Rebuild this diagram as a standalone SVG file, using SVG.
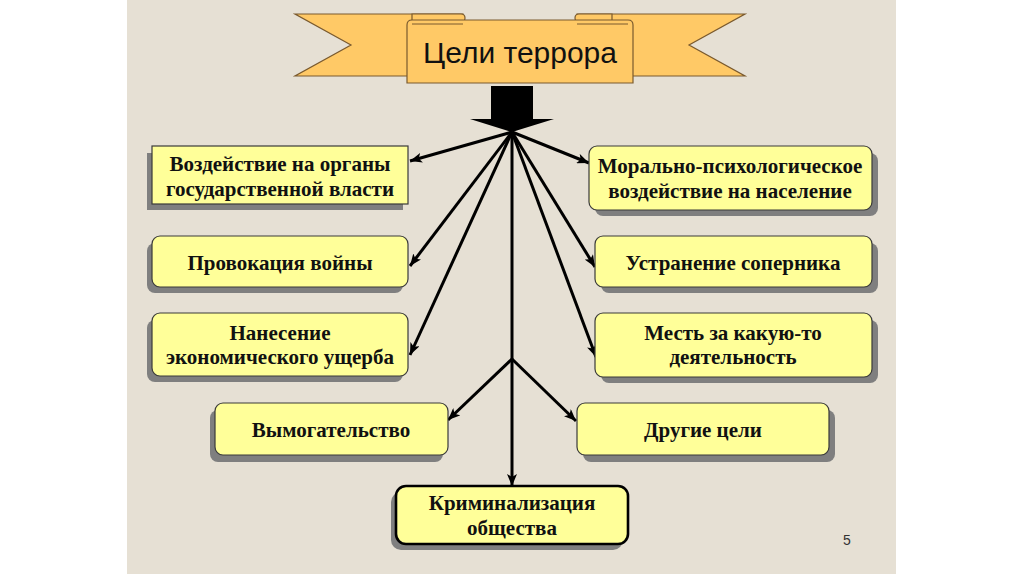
<svg xmlns="http://www.w3.org/2000/svg" width="1024" height="574" viewBox="0 0 1024 574">
<defs>
<marker id="ah" viewBox="0 0 12 10" refX="12" refY="5" markerWidth="12" markerHeight="10" markerUnits="userSpaceOnUse" orient="auto">
<path d="M0,0 L12,5 L0,10 L3,5 Z" fill="#000"/>
</marker>
</defs>
<style>
.bg{fill:#E6E0D4}
.rib{fill:#FFC966;stroke:#7A5A2E;stroke-width:1.2}
.box{fill:#FFFF99;stroke:#3A3A3A;stroke-width:1.2}
.box2{fill:#FFFF99;stroke:#000;stroke-width:2.6}
.sh{fill:#7F7F7F}
.t{font-family:"Liberation Serif","Times New Roman",serif;font-weight:bold;font-size:21px;fill:#111;text-anchor:middle}
.title{font-family:"Liberation Sans",Arial,sans-serif;font-size:30px;fill:#111;text-anchor:middle}
.con{stroke:#000;stroke-width:3;fill:none}
.pg{font-family:"Liberation Sans",Arial,sans-serif;font-size:14px;fill:#333;text-anchor:middle}
</style>
<rect x="0" y="0" width="1024" height="574" fill="#fff"/>
<rect class="bg" x="127" y="0" width="769" height="574"/>

<g id="banner">
<polygon class="rib" points="295,14 463,14 463,76 295,76 351,45"/>
<polygon class="rib" points="745,14 577,14 577,76 745,76 689,45"/>
<path class="rib" d="M412,14 L461,14 Q465,14 465,18 Q465,22 461,22 L412,22 Z"/>
<path class="rib" d="M612,14 L579,14 Q575,14 575,18 Q575,22 579,22 L612,22 Z"/>
<path class="rib" d="M407,83 L407,25 Q407,20 412,20 L628,20 Q633,20 633,25 L633,83 Z"/>
<path d="M412,24 L463,24 M577,24 L628,24" stroke="#7A5A2E" stroke-width="1" fill="none"/>
<text class="title" x="520" y="63">Цели террора</text>
<path d="M491,86 L533,86 L533,119 L554,119 L512,132 L470,119 L491,119 Z" fill="#000"/>
</g>

<g id="connectors">
<line class="con" x1="512" y1="132" x2="410" y2="161" marker-end="url(#ah)"/>
<line class="con" x1="512" y1="132" x2="410" y2="266" marker-end="url(#ah)"/>
<line class="con" x1="512" y1="132" x2="410" y2="355" marker-end="url(#ah)"/>
<line class="con" x1="512" y1="132" x2="589" y2="163" marker-end="url(#ah)"/>
<line class="con" x1="512" y1="132" x2="595" y2="267" marker-end="url(#ah)"/>
<line class="con" x1="512" y1="132" x2="596" y2="357" marker-end="url(#ah)"/>
<line class="con" x1="512" y1="132" x2="512" y2="486" marker-end="url(#ah)"/>
<line class="con" x1="512" y1="359" x2="448" y2="420" marker-end="url(#ah)"/>
<line class="con" x1="512" y1="359" x2="576" y2="421" marker-end="url(#ah)"/>
</g>

<g id="n1">
<rect class="sh" x="147" y="153" width="256" height="57"/>
<rect class="box" x="152" y="146" width="256" height="58"/>
<text class="t" x="280" y="171">Воздействие на органы</text>
<text class="t" x="280" y="196">государственной власти</text>
</g>
<g id="n2">
<rect class="sh" x="147" y="243" width="256" height="50" rx="8"/>
<rect class="box" x="152" y="236" width="256" height="51" rx="8"/>
<text class="t" x="280" y="270">Провокация войны</text>
</g>
<g id="n3">
<rect class="sh" x="147" y="320" width="256" height="62" rx="8"/>
<rect class="box" x="152" y="313" width="256" height="63" rx="8"/>
<text class="t" x="280" y="340">Нанесение</text>
<text class="t" x="280" y="364">экономического ущерба</text>
</g>
<g id="n4">
<rect class="sh" x="595" y="153" width="283" height="63" rx="8"/>
<rect class="box" x="589" y="146" width="283" height="64" rx="8"/>
<text class="t" x="730" y="173">Морально-психологическое</text>
<text class="t" x="730" y="198">воздействие на население</text>
</g>
<g id="n5">
<rect class="sh" x="601" y="243" width="277" height="50" rx="8"/>
<rect class="box" x="595" y="236" width="277" height="51" rx="8"/>
<text class="t" x="733" y="270">Устранение соперника</text>
</g>
<g id="n6">
<rect class="sh" x="601" y="320" width="277" height="63" rx="8"/>
<rect class="box" x="595" y="313" width="277" height="64" rx="8"/>
<text class="t" x="733" y="340">Месть за какую-то</text>
<text class="t" x="733" y="364">деятельность</text>
</g>
<g id="n7">
<rect class="sh" x="210" y="410" width="233" height="52" rx="8"/>
<rect class="box" x="215" y="403" width="233" height="52" rx="8"/>
<text class="t" x="331" y="437">Вымогательство</text>
</g>
<g id="n8">
<rect class="sh" x="583" y="410" width="252" height="52" rx="8"/>
<rect class="box" x="577" y="403" width="252" height="52" rx="8"/>
<text class="t" x="703" y="437">Другие цели</text>
</g>
<g id="n9">
<rect class="sh" x="391" y="492" width="232" height="58" rx="10"/>
<rect class="box2" x="396" y="486" width="232" height="58" rx="10"/>
<text class="t" x="512" y="510">Криминализация</text>
<text class="t" x="512" y="535">общества</text>
</g>
<text class="pg" x="847" y="545">5</text>
</svg>
